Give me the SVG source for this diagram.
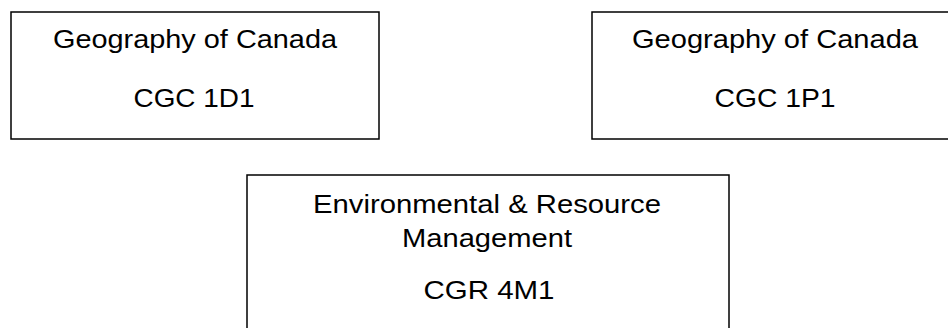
<svg xmlns="http://www.w3.org/2000/svg" width="948" height="328" viewBox="0 0 948 328">
  <style>
    .box { fill: #ffffff; stroke: #000000; stroke-width: 1.5; }
    .label { font-family: "Liberation Sans", Arial, sans-serif; font-size: 26px; fill: #000000; text-anchor: middle; }
  </style>
  <rect width="948" height="328" fill="#ffffff"/>
  <g id="connectors"></g>
  <g id="cgc-1d1">
    <rect class="box" x="11" y="12" width="368" height="127"/>
    <text class="label" x="195" y="48" textLength="284" lengthAdjust="spacingAndGlyphs">Geography of Canada</text>
    <text class="label" x="194" y="107" textLength="121" lengthAdjust="spacingAndGlyphs">CGC 1D1</text>
  </g>
  <g id="cgc-1p1">
    <rect class="box" x="592" y="12" width="366" height="127"/>
    <text class="label" x="775" y="48" textLength="286" lengthAdjust="spacingAndGlyphs">Geography of Canada</text>
    <text class="label" x="775" y="107" textLength="121" lengthAdjust="spacingAndGlyphs">CGC 1P1</text>
  </g>
  <g id="cgr-4m1">
    <rect class="box" x="247" y="175" width="482" height="170"/>
    <text class="label" x="487" y="213" textLength="348" lengthAdjust="spacingAndGlyphs">Environmental &amp; Resource</text>
    <text class="label" x="487" y="247" textLength="170" lengthAdjust="spacingAndGlyphs">Management</text>
    <text class="label" x="489" y="299" textLength="131" lengthAdjust="spacingAndGlyphs">CGR 4M1</text>
  </g>
</svg>
